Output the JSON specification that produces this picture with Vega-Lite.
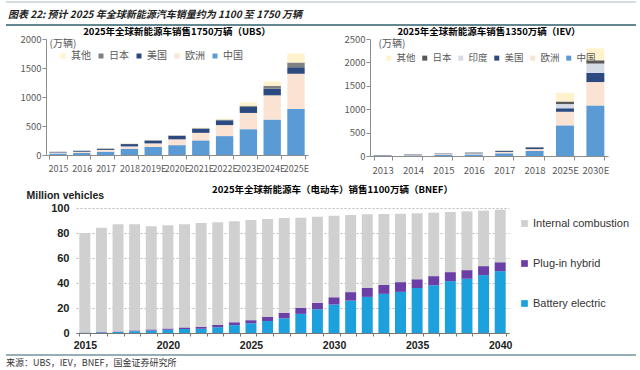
{
  "$schema": "https://vega.github.io/schema/vega-lite/v6.json",
  "padding": {"left": 5, "right": 5, "top": 1, "bottom": 0},
  "background": "white",
  "spacing": 0,
  "resolve": {"scale": {"color": "independent"}},
  "config": {
    "view": {"stroke": null},
    "font": "Noto Sans CJK SC"
  },
  "datasets": {
    "ubs": [
      {"year": "2015", "中国": 26, "欧洲": 17, "美国": 11, "日本": 2, "其他": 2},
      {"year": "2016", "中国": 34, "欧洲": 22, "美国": 16, "日本": 3, "其他": 3},
      {"year": "2017", "中国": 58, "欧洲": 30, "美国": 20, "日本": 5, "其他": 4},
      {"year": "2018", "中国": 108, "欧洲": 40, "美国": 40, "日本": 5, "其他": 7},
      {"year": "2019E", "中国": 140, "欧洲": 60, "美国": 50, "日本": 5, "其他": 5},
      {"year": "2020E", "中国": 170, "欧洲": 100, "美国": 62, "日本": 5, "其他": 5},
      {"year": "2021E", "中国": 252, "欧洲": 130, "美国": 72, "日本": 8, "其他": 10},
      {"year": "2022E", "中国": 326, "欧洲": 190, "美国": 82, "日本": 12, "其他": 15},
      {"year": "2023E", "中国": 445, "欧洲": 280, "美国": 105, "日本": 20, "其他": 60},
      {"year": "2024E", "中国": 611, "欧洲": 418, "美国": 114, "日本": 51, "其他": 75},
      {"year": "2025E", "中国": 794, "欧洲": 606, "美国": 114, "日本": 81, "其他": 155}
    ],
    "iev": [
      {"year": "2013", "中国": 2, "欧洲": 6, "美国": 10, "印度": 0, "日本": 1, "其他": 1},
      {"year": "2014", "中国": 7, "欧洲": 10, "美国": 12, "印度": 0, "日本": 3, "其他": 1},
      {"year": "2015", "中国": 21, "欧洲": 19, "美国": 11, "印度": 0, "日本": 2, "其他": 2},
      {"year": "2016", "中国": 34, "欧洲": 22, "美国": 16, "印度": 1, "日本": 3, "其他": 4},
      {"year": "2017", "中国": 58, "欧洲": 30, "美国": 20, "印度": 1, "日本": 5, "其他": 6},
      {"year": "2018", "中国": 108, "欧洲": 40, "美国": 36, "印度": 1, "日本": 5, "其他": 5},
      {"year": "2025E", "中国": 655, "欧洲": 290, "美国": 75, "印度": 90, "日本": 55, "其他": 185},
      {"year": "2030E", "中国": 1080, "欧洲": 500, "美国": 195, "印度": 200, "日本": 70, "其他": 255}
    ],
    "bnef": [
      {"year": 2015, "Battery electric": 0.3, "Plug-in hybrid": 0.2, "Internal combustion": 79.5},
      {"year": 2016, "Battery electric": 0.5, "Plug-in hybrid": 0.3, "Internal combustion": 83.5},
      {"year": 2017, "Battery electric": 0.8, "Plug-in hybrid": 0.4, "Internal combustion": 85.8},
      {"year": 2018, "Battery electric": 1.4, "Plug-in hybrid": 0.7, "Internal combustion": 84.9},
      {"year": 2019, "Battery electric": 2.0, "Plug-in hybrid": 0.9, "Internal combustion": 82.5},
      {"year": 2020, "Battery electric": 2.6, "Plug-in hybrid": 1.0, "Internal combustion": 82.6},
      {"year": 2021, "Battery electric": 3.2, "Plug-in hybrid": 1.3, "Internal combustion": 82.5},
      {"year": 2022, "Battery electric": 3.4, "Plug-in hybrid": 1.5, "Internal combustion": 83.1},
      {"year": 2023, "Battery electric": 4.6, "Plug-in hybrid": 1.8, "Internal combustion": 82.2},
      {"year": 2024, "Battery electric": 6.3, "Plug-in hybrid": 2.3, "Internal combustion": 80.8},
      {"year": 2025, "Battery electric": 7.8, "Plug-in hybrid": 2.5, "Internal combustion": 80.1},
      {"year": 2026, "Battery electric": 9.6, "Plug-in hybrid": 3.2, "Internal combustion": 78.4},
      {"year": 2027, "Battery electric": 11.8, "Plug-in hybrid": 4.3, "Internal combustion": 75.9},
      {"year": 2028, "Battery electric": 15.3, "Plug-in hybrid": 4.9, "Internal combustion": 72.1},
      {"year": 2029, "Battery electric": 19.0, "Plug-in hybrid": 5.2, "Internal combustion": 68.9},
      {"year": 2030, "Battery electric": 22.8, "Plug-in hybrid": 5.8, "Internal combustion": 65.3},
      {"year": 2031, "Battery electric": 25.9, "Plug-in hybrid": 6.8, "Internal combustion": 61.7},
      {"year": 2032, "Battery electric": 28.9, "Plug-in hybrid": 7.1, "Internal combustion": 59.0},
      {"year": 2033, "Battery electric": 31.3, "Plug-in hybrid": 7.1, "Internal combustion": 56.8},
      {"year": 2034, "Battery electric": 32.9, "Plug-in hybrid": 7.8, "Internal combustion": 54.7},
      {"year": 2035, "Battery electric": 36.0, "Plug-in hybrid": 7.0, "Internal combustion": 52.8},
      {"year": 2036, "Battery electric": 38.2, "Plug-in hybrid": 7.3, "Internal combustion": 50.8},
      {"year": 2037, "Battery electric": 41.5, "Plug-in hybrid": 7.2, "Internal combustion": 48.1},
      {"year": 2038, "Battery electric": 43.4, "Plug-in hybrid": 6.9, "Internal combustion": 47.0},
      {"year": 2039, "Battery electric": 46.3, "Plug-in hybrid": 7.2, "Internal combustion": 44.4},
      {"year": 2040, "Battery electric": 49.5, "Plug-in hybrid": 7.1, "Internal combustion": 42.1}
    ]
  },
  "vconcat": [
    {
      "data": {"values": [{"t": "图表 22: 预计 2025 年全球新能源汽车销量约为 1100 至 1750 万辆"}]},
      "width": 630,
      "height": 23,
      "layer": [
        {
          "mark": {"type": "rule", "color": "#a9bcc3", "strokeWidth": 1},
          "encoding": {
            "x": {"datum": 0, "type": "quantitative", "scale": {"domain": [0, 1]}, "axis": null},
            "x2": {"datum": 1},
            "y": {"datum": 1, "type": "quantitative", "scale": {"domain": [0, 1]}, "axis": null}
          }
        },
        {
          "mark": {"type": "rule", "color": "#2f5f6d", "strokeWidth": 1.5},
          "encoding": {
            "x": {"datum": 0, "type": "quantitative", "scale": {"domain": [0, 1]}, "axis": null},
            "x2": {"datum": 1},
            "y": {"datum": 0, "type": "quantitative", "scale": {"domain": [0, 1]}, "axis": null}
          }
        },
        {
          "mark": {"type": "text", "align": "left", "baseline": "middle", "fontSize": 10, "fontWeight": "bold", "fontStyle": "italic", "color": "#222222", "dx": 2},
          "encoding": {
            "x": {"datum": 0, "type": "quantitative", "scale": {"domain": [0, 1]}, "axis": null},
            "y": {"datum": 0.42, "type": "quantitative", "scale": {"domain": [0, 1]}, "axis": null},
            "text": {"field": "t"}
          }
        }
      ]
    },
    {
      "spacing": 0,
      "bounds": "flush",
      "resolve": {"scale": {"color": "independent"}},
      "hconcat": [
        {
          "data": {"values": []},
          "width": 40,
          "height": 1,
          "mark": {"type": "point"},
          "encoding": {}
        },
        {
          "data": {"name": "ubs"},
          "transform": [
            {"fold": ["中国", "欧洲", "美国", "日本", "其他"], "as": ["r", "v"]},
            {"calculate": "indexof(['中国','欧洲','美国','日本','其他'], datum.r)", "as": "k"}
          ],
          "width": 262,
          "height": 116,
          "title": {"text": "2025年全球新能源车销售1750万辆（UBS）", "fontSize": 9.5, "fontWeight": "bold", "color": "#000000", "offset": -2},
          "mark": {"type": "bar"},
          "encoding": {
            "x": {
              "field": "year", "type": "ordinal",
              "scale": {"paddingInner": 0.27, "paddingOuter": 0.14},
              "axis": {"title": null, "labelAngle": 0, "labelFontSize": 9, "labelColor": "#595959", "labelOverlap": false, "domainColor": "#8c8c8c", "tickColor": "#8c8c8c", "tickBand": "extent", "tickSize": 4, "labelPadding": 5, "minExtent": 29}
            },
            "y": {
              "field": "v", "type": "quantitative", "stack": "zero",
              "scale": {"domain": [0, 2000]},
              "axis": {"title": "(万辆)", "titleAngle": 0, "titleAlign": "left", "titleBaseline": "middle", "titleX": 3, "titleY": 4, "titleFontSize": 10, "titleFontWeight": "normal", "titleColor": "#595959", "values": [0, 500, 1000, 1500, 2000], "format": "d", "labelFontSize": 9.5, "labelColor": "#595959", "domainColor": "#8c8c8c", "tickColor": "#8c8c8c", "tickSize": 4, "grid": false, "labelPadding": 1}
            },
            "color": {
              "field": "r", "type": "nominal",
              "scale": {"domain": ["其他", "日本", "美国", "欧洲", "中国"], "range": ["#fff2cc", "#808080", "#2c4a7f", "#fbe3d3", "#5b9bd5"]},
              "legend": {"title": null, "orient": "top-left", "direction": "horizontal", "offset": 12, "padding": 0, "symbolType": "square", "symbolSize": 25, "symbolStrokeWidth": 0, "labelFontSize": 10, "labelColor": "#595959", "labelOffset": 3, "columnPadding": 5}
            },
            "order": {"field": "k", "type": "quantitative"}
          }
        },
        {
          "data": {"values": []},
          "width": 62,
          "height": 1,
          "mark": {"type": "point"},
          "encoding": {}
        },
        {
          "data": {"name": "iev"},
          "transform": [
            {"fold": ["中国", "欧洲", "美国", "印度", "日本", "其他"], "as": ["r", "v"]},
            {"calculate": "indexof(['中国','欧洲','美国','印度','日本','其他'], datum.r)", "as": "k"}
          ],
          "width": 238,
          "height": 117,
          "title": {"text": "2025年全球新能源车销售1350万辆（IEV）", "fontSize": 9.5, "fontWeight": "bold", "color": "#000000", "offset": -2},
          "mark": {"type": "bar"},
          "encoding": {
            "x": {
              "field": "year", "type": "ordinal",
              "scale": {"paddingInner": 0.41, "paddingOuter": 0.12},
              "axis": {"title": null, "labelAngle": 0, "labelFontSize": 9.5, "labelColor": "#595959", "labelOverlap": false, "domainColor": "#8c8c8c", "tickColor": "#8c8c8c", "tickBand": "extent", "tickSize": 4, "labelPadding": 5, "minExtent": 28}
            },
            "y": {
              "field": "v", "type": "quantitative", "stack": "zero",
              "scale": {"domain": [0, 2500]},
              "axis": {"title": "(万辆)", "titleAngle": 0, "titleAlign": "left", "titleBaseline": "middle", "titleX": 8, "titleY": 4, "titleFontSize": 10, "titleFontWeight": "normal", "titleColor": "#595959", "values": [0, 500, 1000, 1500, 2000, 2500], "format": "d", "labelFontSize": 9.5, "labelColor": "#595959", "domainColor": "#8c8c8c", "tickColor": "#8c8c8c", "tickSize": 4, "grid": false, "labelPadding": 1}
            },
            "color": {
              "field": "r", "type": "nominal",
              "scale": {"domain": ["其他", "日本", "印度", "美国", "欧洲", "中国"], "range": ["#fff2cc", "#595959", "#d6dce5", "#2c4a7f", "#fbe3d3", "#5b9bd5"]},
              "legend": {"title": null, "orient": "top-left", "direction": "horizontal", "offset": 14, "padding": 0, "symbolType": "square", "symbolSize": 25, "symbolStrokeWidth": 0, "labelFontSize": 9.5, "labelColor": "#595959", "labelOffset": 3, "columnPadding": 4}
            },
            "order": {"field": "k", "type": "quantitative"}
          }
        }
      ]
    },
    {
      "spacing": 0,
      "bounds": "flush",
      "resolve": {"scale": {"color": "independent"}},
      "hconcat": [
        {
          "data": {"values": []},
          "width": 70,
          "height": 1,
          "mark": {"type": "point"},
          "encoding": {}
        },
        {
          "data": {"name": "bnef"},
          "transform": [
            {"fold": ["Battery electric", "Plug-in hybrid", "Internal combustion"], "as": ["r", "v"]},
            {"calculate": "indexof(['Battery electric','Plug-in hybrid','Internal combustion'], datum.r)", "as": "k"}
          ],
          "width": 433,
          "height": 125,
          "title": {"text": "2025年全球新能源车（电动车）销售1100万辆（BNEF）", "fontSize": 9.5, "fontWeight": "bold", "color": "#000000", "frame": "bounds", "offset": -4},
          "mark": {"type": "bar"},
          "encoding": {
            "x": {
              "field": "year", "type": "ordinal",
              "scale": {"paddingInner": 0.34, "paddingOuter": 0.2},
              "axis": {"title": null, "labelAngle": 0, "labelExpr": "datum.value % 5 == 0 ? datum.label : ''", "labelFont": "Liberation Sans", "labelFontWeight": "bold", "labelFontSize": 10.5, "labelColor": "#222222", "domainColor": "#777777", "tickColor": "#777777", "tickBand": "extent", "tickSize": 3, "labelPadding": 4, "minExtent": 21}
            },
            "y": {
              "field": "v", "type": "quantitative", "stack": "zero",
              "scale": {"domain": [0, 100]},
              "axis": {"title": "Million vehicles", "titleAngle": 0, "titleAlign": "left", "titleBaseline": "middle", "titleX": -50, "titleY": -13, "titleFont": "Liberation Sans", "titleFontSize": 10.5, "titleFontWeight": "bold", "titleColor": "#222222", "values": [0, 20, 40, 60, 80, 100], "labelFont": "Liberation Sans", "labelFontWeight": "bold", "labelFontSize": 11, "labelColor": "#222222", "domain": false, "ticks": false, "labelPadding": 7, "grid": true, "gridColor": "#bbbbbb", "gridDash": [2, 2]}
            },
            "color": {
              "field": "r", "type": "nominal",
              "scale": {"domain": ["Internal combustion", "Plug-in hybrid", "Battery electric"], "range": ["#d0d0d0", "#6b3fa6", "#1da1dd"]},
              "legend": {"title": null, "orient": "right", "offset": 0, "padding": 10, "symbolType": "square", "symbolSize": 45, "symbolStrokeWidth": 0, "labelFont": "Liberation Sans", "labelFontSize": 11, "labelColor": "#333333", "labelOffset": 3, "rowPadding": 28}
            },
            "order": {"field": "k", "type": "quantitative"}
          }
        }
      ]
    },
    {
      "data": {"values": [{"t": "来源：UBS，IEV，BNEF，国金证券研究所"}]},
      "width": 630,
      "height": 14,
      "layer": [
        {
          "mark": {"type": "rule", "color": "#2f5f6d", "strokeWidth": 1.2},
          "encoding": {
            "x": {"datum": 0, "type": "quantitative", "scale": {"domain": [0, 1]}, "axis": null},
            "x2": {"datum": 1},
            "y": {"datum": 1, "type": "quantitative", "scale": {"domain": [0, 1]}, "axis": null}
          }
        },
        {
          "mark": {"type": "text", "align": "left", "baseline": "middle", "fontSize": 9, "color": "#333333"},
          "encoding": {
            "x": {"datum": 0, "type": "quantitative", "scale": {"domain": [0, 1]}, "axis": null},
            "y": {"datum": 0.45, "type": "quantitative", "scale": {"domain": [0, 1]}, "axis": null},
            "text": {"field": "t"}
          }
        }
      ]
    }
  ]
}
